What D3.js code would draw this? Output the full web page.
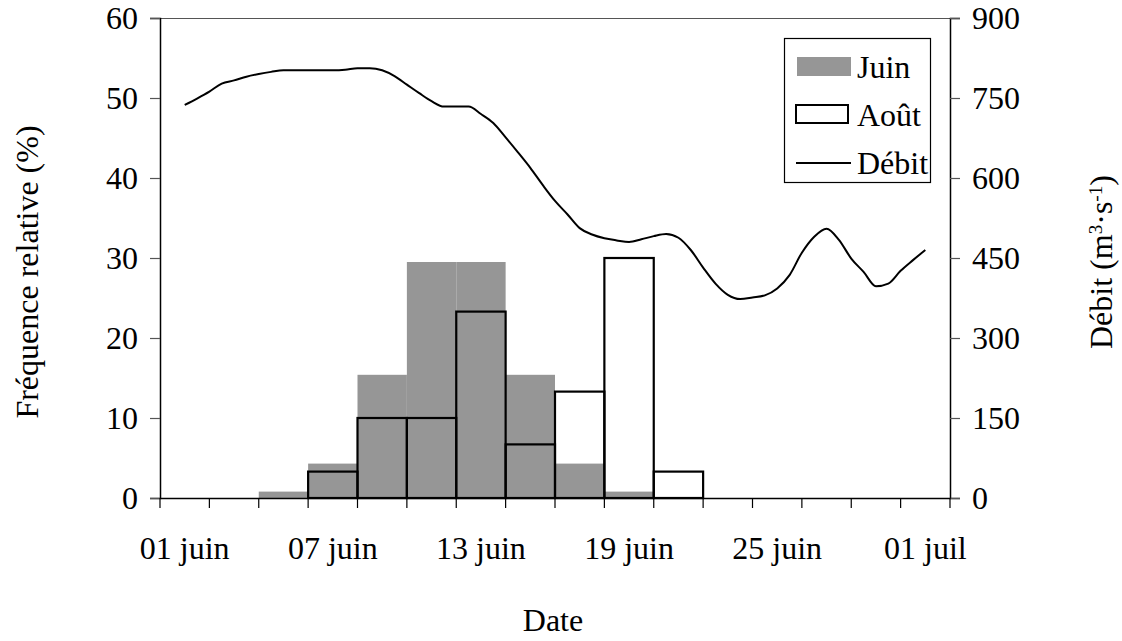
<!DOCTYPE html>
<html>
<head>
<meta charset="utf-8">
<script src="https://cdn.jsdelivr.net/npm/d3@7/dist/d3.min.js"></script>
<style>
  html, body { margin: 0; padding: 0; background: #fff; }
  text { font-family: "Liberation Serif", "Times New Roman", serif; fill: #000; }
</style>
</head>
<body>
<svg id="chart" width="1122" height="641"></svg>
<script>
// ---- data ----
const categories = ["01 juin","03 juin","05 juin","07 juin","09 juin","11 juin","13 juin","15 juin",
                    "17 juin","19 juin","21 juin","23 juin","25 juin","27 juin","29 juin","01 juil"];
const shownLabels = ["01 juin","07 juin","13 juin","19 juin","25 juin","01 juil"];
const juin = [0, 0, 0.8, 4.3, 15.4, 29.5, 29.5, 15.4, 4.3, 0.8, 0, 0, 0, 0, 0, 0];
const aout = [0, 0, 0, 3.3, 10, 10, 23.3, 6.7, 13.3, 30, 3.3, 0, 0, 0, 0, 0];
// Débit, twice daily from 01 juin to 01 juil (m3/s)
const debit = [737, 749, 762, 777, 783, 790, 795, 799, 802, 802, 802, 802, 802, 803, 806, 806,
               802, 791, 775, 759, 744, 734, 734, 734, 720, 703, 676, 648, 619, 587, 557, 532,
               506, 494, 487, 483, 480, 485, 491, 495, 488, 465, 432, 402, 381, 373, 376, 380,
               393, 418, 460, 490, 505, 484, 449, 424, 397, 402, 426, 446, 465];
const leftTicks = [0, 10, 20, 30, 40, 50, 60];
const rightTicks = [0, 150, 300, 450, 600, 750, 900];

// ---- layout ----
const svg = d3.select("#chart");
const L = 160, R = 950, T = 18, B = 498;
const FS = 32;

const x = d3.scaleBand().domain(categories).range([L, R]).padding(0);
const yL = d3.scaleLinear().domain([0, 60]).range([B, T]);
const yR = d3.scaleLinear().domain([0, 900]).range([B, T]);
const bw = x.bandwidth();
const xLine = d3.scaleLinear().domain([0, debit.length - 1])
  .range([x(categories[0]) + bw / 2, x(categories[categories.length - 1]) + bw / 2]);

// top border
svg.append("line").attr("x1", L).attr("x2", R).attr("y1", T + 0.5).attr("y2", T + 0.5)
  .attr("stroke", "#555").attr("stroke-width", 1.2);

// Juin bars (gray)
svg.append("g").selectAll("rect").data(categories).join("rect")
  .attr("x", c => x(c))
  .attr("width", bw)
  .attr("y", (c, i) => yL(juin[i]))
  .attr("height", (c, i) => B - yL(juin[i]))
  .attr("fill", "#969696");

// Août bars (outline)
svg.append("g").selectAll("rect").data(categories.filter((c, i) => aout[i] > 0)).join("rect")
  .attr("x", c => x(c))
  .attr("width", bw)
  .attr("y", c => yL(aout[categories.indexOf(c)]))
  .attr("height", c => B - yL(aout[categories.indexOf(c)]))
  .attr("fill", "none")
  .attr("stroke", "#000")
  .attr("stroke-width", 2.2);

// Débit line
svg.append("path")
  .datum(debit)
  .attr("fill", "none")
  .attr("stroke", "#000")
  .attr("stroke-width", 2)
  .attr("stroke-linejoin", "round")
  .attr("d", d3.line().x((d, i) => xLine(i)).y(d => yR(d)).curve(d3.curveMonotoneX));

// left axis
const gL = svg.append("g").attr("transform", `translate(${L},0)`)
  .call(d3.axisLeft(yL).tickValues(leftTicks).tickSize(10).tickPadding(12).tickFormat(d3.format("d")));
gL.select(".domain").attr("stroke", "#000").attr("stroke-width", 1.5);
gL.selectAll(".tick line").attr("stroke", "#555").attr("stroke-width", 1.2);
gL.selectAll(".tick text").style("font-size", FS + "px").style("font-family", "Liberation Serif");

// right axis
const gR = svg.append("g").attr("transform", `translate(${R},0)`)
  .call(d3.axisRight(yR).tickValues(rightTicks).tickSize(10).tickPadding(12).tickFormat(d3.format("d")));
gR.select(".domain").attr("stroke", "#000").attr("stroke-width", 1.5);
gR.selectAll(".tick line").attr("stroke", "#555").attr("stroke-width", 1.2);
gR.selectAll(".tick text").style("font-size", FS + "px").style("font-family", "Liberation Serif");

// bottom axis
const gB = svg.append("g").attr("transform", `translate(0,${B})`)
  .call(d3.axisBottom(x).tickSize(0).tickPadding(48)
    .tickFormat(c => shownLabels.includes(c) ? c : ""));
gB.select(".domain").attr("stroke", "#000").attr("stroke-width", 1.5);
gB.selectAll(".tick text").style("font-size", FS + "px").style("font-family", "Liberation Serif")
  .attr("dy", "0");
const bounds = categories.map(c => x(c)).concat([x.range()[1]]);
gB.selectAll("line.bound").data(bounds).join("line").attr("class", "bound")
  .attr("x1", d => d).attr("x2", d => d).attr("y1", 0).attr("y2", 10)
  .attr("stroke", "#000").attr("stroke-width", 1.2);
gB.selectAll(".tick text").attr("y", 61);

// axis titles
svg.append("text").attr("x", (L + R) / 2 - 2).attr("y", 631)
  .attr("text-anchor", "middle").style("font-size", FS + "px").text("Date");

svg.append("text")
  .attr("transform", "translate(38,272) rotate(-90)")
  .attr("text-anchor", "middle").style("font-size", FS + "px")
  .text("Fréquence relative (%)");

const rt = svg.append("text")
  .attr("transform", "translate(1112,262) rotate(-90)")
  .attr("text-anchor", "middle").style("font-size", FS + "px");
rt.append("tspan").text("Débit (m");
rt.append("tspan").attr("baseline-shift", "super").style("font-size", (FS * 0.6) + "px").text("3");
rt.append("tspan").text("·s");
rt.append("tspan").attr("baseline-shift", "super").style("font-size", (FS * 0.6) + "px").text("-1");
rt.append("tspan").text(")");

// legend
const lg = svg.append("g");
lg.append("rect").attr("x", 784.5).attr("y", 38.5).attr("width", 146).attr("height", 144)
  .attr("fill", "#fff").attr("stroke", "#000").attr("stroke-width", 1.2);
const items = [
  { name: "Juin", type: "fill" },
  { name: "Août", type: "outline" },
  { name: "Débit", type: "line" }
];
items.forEach((it, i) => {
  const cy = 67 + i * 48;
  if (it.type === "fill") {
    lg.append("rect").attr("x", 797).attr("y", cy - 10).attr("width", 54).attr("height", 19).attr("fill", "#969696");
  } else if (it.type === "outline") {
    lg.append("rect").attr("x", 796).attr("y", cy - 10).attr("width", 52).attr("height", 18)
      .attr("fill", "#fff").attr("stroke", "#000").attr("stroke-width", 2);
  } else {
    lg.append("line").attr("x1", 796).attr("x2", 851).attr("y1", cy).attr("y2", cy)
      .attr("stroke", "#000").attr("stroke-width", 2);
  }
  lg.append("text").attr("x", 857).attr("y", cy + 11).style("font-size", FS + "px").text(it.name);
});
</script>
</body>
</html>
